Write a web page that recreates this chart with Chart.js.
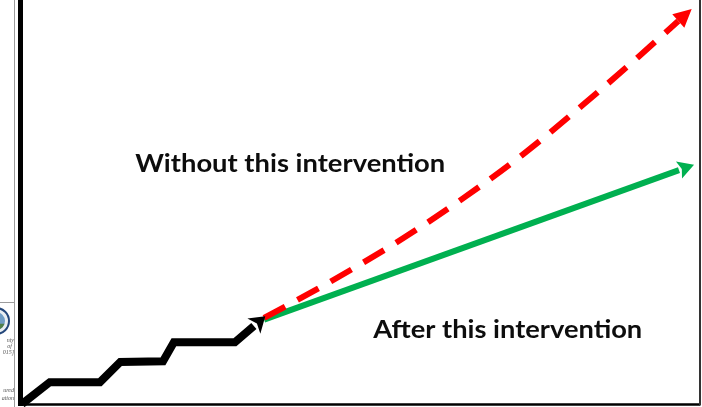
<!DOCTYPE html>
<html>
<head>
<meta charset="utf-8">
<script src="https://cdn.jsdelivr.net/npm/chart.js@4/dist/chart.umd.min.js"></script>
<style>
  html, body { margin: 0; padding: 0; background: #ffffff; }
  #wrap { width: 702px; height: 407px; }
</style>
</head>
<body>
<div id="wrap"><canvas id="c" width="702" height="407"></canvas></div>
<script>
// ---- Data (arbitrary units: time 0-100, level 0-100) ----
const pastX = [0, 4.1, 11.5, 14.5, 20.8, 22.4, 31.4, 34.2];
const pastY = [0, 5.4, 5.4, 10.4, 10.6, 15.3, 15.3, 19.3];

const withoutX = [35.7, 45.4, 55.8, 65.3, 74.5, 82.7, 90.9, 96.8];
const withoutY = [21.3, 30.2, 40.6, 51.2, 62.6, 74.0, 85.9, 94.8];

const afterX = [35.7, 96.9];
const afterY = [20.9, 57.9];

const labelWithout = "Without this intervention";
const labelAfter = "After this intervention";

const zip = (xs, ys) => xs.map((x, i) => ({ x: x, y: ys[i] }));

// ---- Plugins ----
const backgroundPanel = {
  id: 'backgroundPanel',
  beforeDraw(chart) {
    const ctx = chart.ctx;
    ctx.save();
    ctx.fillStyle = '#ffffff';
    ctx.fillRect(0, 0, chart.width, chart.height);
    // left slide strip
    ctx.strokeStyle = '#9c9c9c';
    ctx.lineWidth = 1;
    ctx.beginPath();
    ctx.moveTo(14.5, 0); ctx.lineTo(14.5, chart.height);
    ctx.moveTo(0, 302.5); ctx.lineTo(14, 302.5);
    ctx.stroke();
    ctx.beginPath();
    ctx.rect(0, 0, 14, chart.height);
    ctx.clip();
    // seal
    ctx.beginPath();
    ctx.arc(-4, 321, 13, 0, Math.PI * 2);
    ctx.fillStyle = '#e9eef2';
    ctx.fill();
    ctx.lineWidth = 2;
    ctx.strokeStyle = '#23467a';
    ctx.stroke();
    ctx.beginPath();
    ctx.arc(-4, 321, 9, 0, Math.PI * 2);
    ctx.fillStyle = '#6f9cc4';
    ctx.fill();
    ctx.beginPath();
    ctx.arc(-4, 321, 9, 0.1 * Math.PI, 0.9 * Math.PI);
    ctx.fillStyle = '#4f7f4a';
    ctx.fill();
    ctx.fillStyle = '#555';
    ctx.font = 'italic 6px "Liberation Serif"';
    ctx.textAlign = 'right';
    ctx.fillText('nty', 14, 342);
    ctx.fillText('of', 12, 348);
    ctx.fillText('015]', 14, 354);
    ctx.fillText('ured', 14, 392);
    ctx.fillText('ation', 14, 400);
    ctx.restore();
  }
};

const arrowHeads = {
  id: 'arrowHeads',
  afterDatasetsDraw(chart) {
    const ctx = chart.ctx;
    chart.data.datasets.forEach((ds, i) => {
      if (!ds.arrow) return;
      const meta = chart.getDatasetMeta(i);
      const pts = meta.data;
      const last = pts[pts.length - 1];
      const prev = pts[pts.length - 2];
      let fx = prev.x, fy = prev.y;
      if (last.cp1x !== undefined && ds.cubicInterpolationMode === 'monotone') {
        if (Math.hypot(last.x - last.cp1x, last.y - last.cp1y) > 1) { fx = last.cp1x; fy = last.cp1y; }
      }
      let dx = last.x - fx, dy = last.y - fy;
      const len = Math.hypot(dx, dy) || 1;
      dx /= len; dy /= len;
      const px = -dy, py = dx;
      const L = ds.arrow.length, W = ds.arrow.width, notch = ds.arrow.notch || 0;
      const tipX = last.x + dx * L, tipY = last.y + dy * L;
      ctx.save();
      ctx.fillStyle = ds.borderColor;
      ctx.beginPath();
      ctx.moveTo(tipX, tipY);
      ctx.lineTo(last.x + px * W / 2, last.y + py * W / 2);
      ctx.lineTo(last.x + dx * notch, last.y + dy * notch);
      ctx.lineTo(last.x - px * W / 2, last.y - py * W / 2);
      ctx.closePath();
      ctx.fill();
      ctx.restore();
    });
  }
};

const frameAndLabels = {
  id: 'frameAndLabels',
  afterDraw(chart) {
    const ctx = chart.ctx;
    const a = chart.chartArea;
    const xs = chart.scales.x, ys = chart.scales.y;
    ctx.save();
    // frame
    ctx.strokeStyle = '#000';
    ctx.lineWidth = 5;
    ctx.beginPath();
    ctx.moveTo(a.left - 1.5, 0);
    ctx.lineTo(a.left - 1.5, a.bottom + 2);
    ctx.stroke();
    ctx.lineWidth = 2.5;
    ctx.beginPath();
    ctx.moveTo(a.left - 4, a.bottom + 0.5);
    ctx.lineTo(a.right, a.bottom + 0.5);
    ctx.stroke();
    ctx.strokeStyle = '#333';
    ctx.lineWidth = 2;
    ctx.beginPath();
    ctx.moveTo(a.right, 0);
    ctx.lineTo(a.right, a.bottom + 1.5);
    ctx.stroke();
    ctx.restore();
    // labels (Calibri-like: tall bold, slightly condensed)
    const drawFit = (text, xv, yv, targetW) => {
      const size = 24;
      ctx.save();
      ctx.font = 'bold ' + size + 'px Lato';
      const w = ctx.measureText(text).width;
      const sx = targetW / w;
      ctx.translate(xs.getPixelForValue(xv), ys.getPixelForValue(yv));
      ctx.scale(sx, 1);
      ctx.fillStyle = '#0d0d0d';
      ctx.textAlign = 'left';
      ctx.textBaseline = 'alphabetic';
      ctx.fillText(text, 0, 0);
      ctx.restore();
    };
    drawFit(labelWithout, 16.7, 57.4, 310);
    drawFit(labelAfter, 51.8, 16.3, 269);
  }
};

new Chart(document.getElementById('c'), {
  type: 'line',
  data: {
    datasets: [
      {
        label: 'Past',
        data: zip(pastX, pastY),
        borderColor: '#000000',
        borderWidth: 8,
        borderJoinStyle: 'miter',
        tension: 0,
        pointRadius: 0,
        clip: false,
        order: 0,
        arrow: { length: 15, width: 20, notch: 4 }
      },
      {
        label: labelWithout,
        data: zip(withoutX, withoutY),
        borderColor: '#ff0000',
        borderWidth: 6,
        borderDash: [24, 14],
        borderCapStyle: 'butt',
        cubicInterpolationMode: 'monotone',
        pointRadius: 0,
        clip: false,
        order: 1,
        arrow: { length: 18, width: 18, notch: 0 }
      },
      {
        label: labelAfter,
        data: zip(afterX, afterY),
        borderColor: '#00b050',
        borderWidth: 6,
        tension: 0,
        pointRadius: 0,
        clip: false,
        order: 2,
        arrow: { length: 16, width: 18, notch: 3 }
      }
    ]
  },
  options: {
    responsive: false,
    animation: false,
    devicePixelRatio: 1,
    layout: { padding: { left: 22, right: 2, top: 0, bottom: 3 } },
    plugins: { legend: { display: false }, tooltip: { enabled: false } },
    scales: {
      x: { type: 'linear', min: 0, max: 100, display: false },
      y: { type: 'linear', min: 0, max: 100, display: false }
    }
  },
  plugins: [backgroundPanel, arrowHeads, frameAndLabels]
});
</script>
</body>
</html>
